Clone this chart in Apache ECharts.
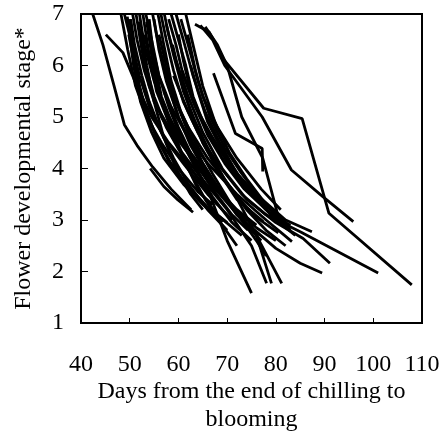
<!DOCTYPE html>
<html>
<head>
<meta charset="utf-8">
<script src="https://cdn.jsdelivr.net/npm/echarts@6/dist/echarts.min.js"></script>
<style>
html,body{margin:0;padding:0;background:#fff;}
#chart{width:444px;height:437px;}
</style>
</head>
<body>
<div id="chart"></div>
<script>
// [days from end of chilling, flower developmental stage]
const line01 = [[42.4,7],[44.5,6.4],[46.8,5.6],[48.9,4.85],[51.5,4.45],[54.7,4.03],[58.5,3.6],[62.6,3.2]];
const line02 = [[54.2,4.0],[57,3.65],[59.9,3.39],[63,3.15]];
const line03 = [[45.1,6.6],[48.6,6.25],[51.5,5.6],[54.5,5.0],[58,4.5],[62,4.05],[66,3.6]];
const line04 = [[48.2,7],[49.6,6.3],[51.2,5.6],[53.5,5.0],[56.5,4.5],[60,4.0],[64,3.55],[67,3.3]];
const line05 = [[48.9,7],[50.5,6.4],[52,5.8],[54,5.2],[57,4.6],[61,4.1],[66,3.5],[71,3.0]];
const line06 = [[50.6,7],[51.5,6.5],[53,5.9],[55,5.3],[58,4.8],[62,4.3],[67,3.7],[72,3.2],[76,2.9]];
const line07 = [[51.3,7],[52.5,6.3],[54,5.6],[56.5,5.0],[60,4.4],[64,3.9],[70,3.2],[75,2.5],[78.1,1.77]];
const line08 = [[52,7],[53,6.4],[55,5.7],[57.5,5.1],[61,4.5],[65,4.0],[70,3.4],[76,2.7],[79.1,1.77]];
const line09 = [[52.7,7],[54,6.2],[55.5,5.5],[58,4.9],[62,4.3],[66,3.6],[70,2.6],[75,1.58]];
const line10 = [[53.3,7],[54.5,6.5],[56,5.8],[58.5,5.2],[62,4.6],[66,4.1],[72,3.5],[78,3.0],[83.3,2.58]];
const line11 = [[54.7,7],[55.5,6.6],[57,6.0],[59,5.4],[62,4.8],[66,4.2],[71,3.6],[76,2.7],[81.2,1.77]];
const line12 = [[56.4,7],[57.5,6.5],[59,5.9],[61,5.3],[64,4.7],[68,4.1],[73,3.5],[78,3.1],[85,2.77],[101,1.97]];
const line13 = [[57.1,7],[58,6.6],[59.5,6.1],[62,5.4],[65,4.7],[69,4.0],[74,3.4],[80,2.95],[85.6,2.64],[91.1,2.16]];
const line14 = [[55,6.9],[56,6.3],[57.5,5.7],[60,5.0],[63,4.4],[67,3.8],[72,3.1],[80,2.45],[85,2.16],[89.5,1.97]];
const line15 = [[58,6.9],[59.5,6.4],[61,5.8],[63.5,5.2],[67,4.6],[71,4.0],[76,3.5],[82,3.0],[87.4,2.77]];
const line16 = [[53.5,6.85],[54.5,6.2],[56,5.5],[58,4.9],[61,4.2],[64,3.6],[68,3.1],[73,2.7]];
const line17 = [[50.2,6.9],[51,6.4],[52.5,5.8],[54,5.3],[56.5,4.7],[59,4.2],[62,3.7],[66,3.2],[70,2.8]];
const line18 = [[49.5,6.95],[50.8,6.0],[52.2,5.3],[54.5,4.7],[57,4.2],[61,3.7],[65,3.3],[69,2.95]];
const line19 = [[60,6.6],[61,6.1],[62.5,5.5],[64.5,5.0],[67.5,4.5],[71,4.0],[75,3.5],[79,3.1],[83,2.9]];
const line20 = [[61.9,6.6],[62.6,6.3],[63.5,5.9],[65,5.4],[68,4.8],[72,4.2],[77,3.6],[81,3.2]];
const line21 = [[63.4,6.8],[66.3,6.65],[67.5,6.45],[69.2,6.13],[77.5,5.17],[85.4,4.97],[90.9,3.13],[107.9,1.74]];
const line22 = [[64.5,6.78],[67,6.5],[69.5,6.0],[77.2,5.0],[83.2,3.97],[89.7,3.45],[95.9,2.97]];
const line23 = [[65.5,6.75],[68,6.4],[70,6.0],[73,5.0],[77.3,4.2],[80.4,3.1],[81.5,3.0]];
const line24 = [[67.2,5.85],[71.7,4.68],[77.2,4.39],[77.3,3.94]];
const line25 = [[57,5.5],[60,4.8],[63,4.2],[67,3.6],[71,3.1],[74.3,2.8]];
const line26 = [[59,5.8],[62,5.1],[65,4.5],[68.5,3.9],[72,3.4],[77.4,2.97]];
const line27 = [[51.8,6.85],[53,6.1],[55,5.4],[57.5,4.8],[60.5,4.3],[64,3.8],[68,3.3]];
const line28 = [[54,6.9],[55,6.1],[56.5,5.4],[59,4.8],[62.5,4.2],[66.5,3.7],[71,3.25],[76,2.85],[80,2.6]];
const line29 = [[58.5,7],[60,6.5],[61.5,6.0],[63,5.4],[65.5,4.8],[69,4.2],[73,3.7],[77,3.3],[80.2,3.16]];
const line30 = [[52.3,6.7],[53.5,6.0],[55,5.3],[57,4.6],[59.5,4.0],[62.5,3.5],[65,3.2]];
const line31 = [[50,6.9],[51,6.2],[52,5.6],[53.5,5.1],[55.5,4.6],[58,4.15],[61,3.75]];
const line32 = [[55.8,7],[57,6.4],[58.5,5.7],[60.5,5.1],[63.5,4.5],[67,3.9],[71.5,3.2],[76,2.6],[78,2.3]];
const line33 = [[53,6.6],[54.5,6.0],[56.5,5.3],[59,4.7],[62,4.0],[65.5,3.4],[69,2.9],[72,2.5]];
const line34 = [[59.5,7],[61,6.5],[63,5.8],[65.5,5.1],[68.5,4.5],[72,3.9],[76,3.4],[80,3.0],[84,2.7]];
const line35 = [[60.5,6.9],[62,6.4],[64,5.7],[66.5,5.0],[69.5,4.4],[73,3.9],[77,3.4],[82,2.95]];
const line36 = [[61.5,7],[63,6.4],[65,5.6],[67.5,4.9],[70.5,4.3],[74,3.8],[78,3.3],[83,2.8]];
const line37 = [[57.5,6.8],[59,6.2],[61,5.5],[63.5,4.9],[66.5,4.3],[70,3.7],[74,3.2],[78,2.8],[82,2.5]];
const line38 = [[56,6.6],[57.5,6.0],[59.5,5.3],[62,4.7],[65,4.1],[68.5,3.55],[73,3.0],[77,2.6]];
const line39 = [[54.5,6.4],[56,5.8],[58,5.2],[60.5,4.6],[63.5,4.0],[67,3.45],[71,2.95],[75,2.6]];
const line40 = [[58.8,6.4],[60.3,5.8],[62.5,5.1],[65,4.5],[68,4.0],[72,3.45],[76,3.05],[80.5,2.75]];
const line41 = [[60.8,5.9],[63,5.3],[66,4.65],[69.5,4.1],[73.5,3.6],[78,3.2],[82.5,2.9]];
const line42 = [[56.5,6.2],[58,5.6],[60,5.0],[62.5,4.45],[65.5,3.95],[69,3.45],[73,3.0],[76.5,2.7]];
const line43 = [[62.5,6.0],[64,5.5],[66,4.9],[69,4.35],[72.5,3.85],[76,3.45],[80,3.1]];
const line44 = [[49.8,6.6],[51.2,5.9],[53,5.2],[55.5,4.6],[58.5,4.1],[62,3.65],[66,3.25],[70,2.95]];

const allLines = [line01,line02,line03,line04,line05,line06,line07,line08,line09,line10,
  line11,line12,line13,line14,line15,line16,line17,line18,line19,line20,
  line21,line22,line23,line24,line25,line26,line27,line28,line29,line30,
  line31,line32,line33,line34,line35,line36,line37,line38,line39,line40,
  line41,line42,line43,line44];

const xTicks = [40,50,60,70,80,90,100,110];
const yTicks = [1,2,3,4,5,6,7];
const xName = 'Days from the end of chilling to\nblooming';
const yName = 'Flower developmental stage*';

const font = 'Liberation Serif';
const chart = echarts.init(document.getElementById('chart'), null, {renderer:'canvas'});
chart.setOption({
  animation:false,
  backgroundColor:'#fff',
  grid:{left:81, top:14, right:22, bottom:114, containLabel:false, outerBoundsMode:'none',
    show:true, borderColor:'#000', borderWidth:2, backgroundColor:'transparent'},
  xAxis:{
    type:'value', min:xTicks[0], max:xTicks[xTicks.length-1], interval:10,
    name:xName, nameLocation:'middle', nameGap:55, nameMoveOverlap:false,
    nameTextStyle:{fontFamily:font, fontSize:24, color:'#000', lineHeight:28},
    axisLine:{lineStyle:{color:'#000', width:2}},
    axisTick:{inside:true, length:5, lineStyle:{color:'#000', width:1}},
    axisLabel:{fontFamily:font, fontSize:24, color:'#000', margin:30, rotate:0, hideOverlap:false},
    splitLine:{show:false}
  },
  yAxis:{
    type:'value', min:yTicks[0], max:yTicks[yTicks.length-1], interval:1,
    name:yName, nameLocation:'middle', nameGap:45, nameMoveOverlap:false,
    nameTextStyle:{fontFamily:font, fontSize:24, color:'#000'},
    axisLine:{lineStyle:{color:'#000', width:2}},
    axisTick:{inside:true, length:7, lineStyle:{color:'#000', width:1}},
    axisLabel:{fontFamily:font, fontSize:24, color:'#000', margin:17, rotate:0, hideOverlap:false},
    splitLine:{show:false}
  },
  series: allLines.map(function(d){
    return {type:'line', data:d, showSymbol:false, symbol:'none', silent:true,
      lineStyle:{color:'#000', width:2.8}, clip:true};
  })
});
</script>
</body>
</html>
